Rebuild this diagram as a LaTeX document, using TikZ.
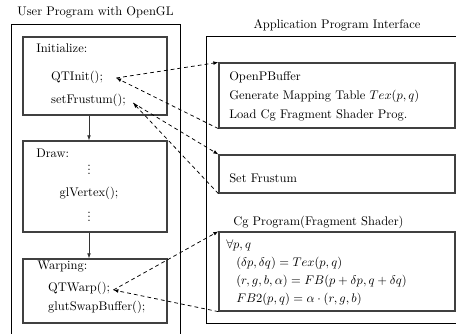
\documentclass[tikz,border=0pt]{standalone}
\usepackage{amsmath,amssymb}
\usetikzlibrary{arrows.meta,positioning,calc}

\newcommand{\colldots}{\vbox{\baselineskip3.4pt\lineskiplimit0pt\hbox{.}\hbox{.}\hbox{.}}}

\begin{document}
\begin{tikzpicture}[
  x=0.8pt, y=-0.8pt,
  font=\fontsize{10}{12}\selectfont,
  outerbox/.style={rectangle, draw=black, line width=0.6pt, inner sep=0pt},
  progbox/.style={rectangle, draw=black!75, line width=1pt, inner sep=0pt,
                  minimum width=115.2pt},
  apibox/.style={rectangle, draw=black!75, line width=1pt, inner sep=0pt,
                 minimum width=188.8pt},
  codetext/.style={anchor=west, inner sep=0pt},
  flowarr/.style={-{Latex[length=4pt,width=3pt]}, line width=0.6pt, color=black!80},
  callarr/.style={-{Latex[length=4pt,width=3pt]}, line width=0.6pt,
                  dash pattern=on 3pt off 2.5pt}
]
\useasboundingbox (0,0) rectangle (456,334);
\clip (0,0) rectangle (456,334);

%% frames
\node[outerbox, minimum width=135.2pt, minimum height=256.8pt] (user) at (95.5,184.5) {};
\node[outerbox, minimum width=219.2pt, minimum height=229.6pt] (api)  at (343,179.5) {};

%% user program
\node[progbox, minimum height=62.4pt] (init)    at (95,76)    {};
\node[progbox, minimum height=72.8pt] (drawbox) at (95,186.5) {};
\node[progbox, minimum height=51.2pt] (warp)    at (95,291)   {};

\node[above=1pt of user.north] (usertitle) {User Program with OpenGL};

\node[codetext] (initlbl) at (36,48)  {Initialize:};
\node[codetext] (qtinit)  at (51,77)  {QTInit();};
\node[codetext] (setfr)   at (51,100) {setFrustum();};

\node[codetext]    (drawlbl) at (36,153) {Draw:};
\node[inner sep=0pt] (dotsa)  at (89,170) {\colldots};
\node[inner sep=0pt] (glvert) at (89,193) {glVertex();};
\node[inner sep=0pt] (dotsb)  at (89,217) {\colldots};

\node[codetext] (warplbl) at (37,267) {Warping:};
\node[codetext] (qtwarp)  at (48,288) {QTWarp();};
\node[codetext] (swapbuf) at (48,307) {glutSwapBuffer();};

%% api side
\node[apibox, minimum height=52pt]   (buf)  at (337,95.5)  {};
\node[apibox, minimum height=30.4pt] (frus) at (337,174)   {};
\node[apibox, minimum height=63.2pt] (cg)   at (337,271.5) {};

\coordinate (apitop) at (buf.north |- api.north);
\node[above=0pt of apitop] (apititle) {Application Program Interface};

\node[codetext] (openpb) at (229,77)  {OpenPBuffer};
\node[codetext] (genmap) at (229,96)  {Generate Mapping Table $Tex(p,q)$};
\node[codetext] (loadcg) at (229,115) {Load Cg Fragment Shader Prog.};

\node[codetext] (setfrus) at (229,178) {Set Frustum};

\node[codetext] (cglbl)  at (233,222) {Cg Program(Fragment Shader)};
\node[codetext] (forall) at (226,245) {$\forall p,q$};
\node[codetext] (dshift) at (236,263) {$(\delta p,\delta q)=Tex(p,q)$};
\node[codetext] (fetch)  at (236,281) {$(r,g,b,\alpha)=FB(p+\delta p,q+\delta q)$};
\node[codetext] (fbout)  at (236,299) {$FB2(p,q)=\alpha\cdot(r,g,b)$};

%% call points
\coordinate (initpt) at ($(qtinit.east)+(13,1)$);
\coordinate (setpt)  at ($(setfr.east)+(7,3)$);
\coordinate (warppt) at ($(qtwarp.east)+(3,2)$);

%% arrows
\draw[flowarr] (init.south -| dotsa) -- (drawbox.north -| dotsa);
\draw[flowarr] (drawbox.south -| dotsa) -- (warp.north -| dotsa);

\draw[callarr] (initpt) -- (buf.north west);
\draw[callarr] (buf.south west) -- (initpt);
\draw[callarr] (setpt) -- (frus.north west);
\draw[callarr] (frus.south west) -- (setpt);
\draw[callarr] (warppt) -- (cg.north west);
\draw[callarr] (cg.south west) -- (warppt);

\end{tikzpicture}
\end{document}
